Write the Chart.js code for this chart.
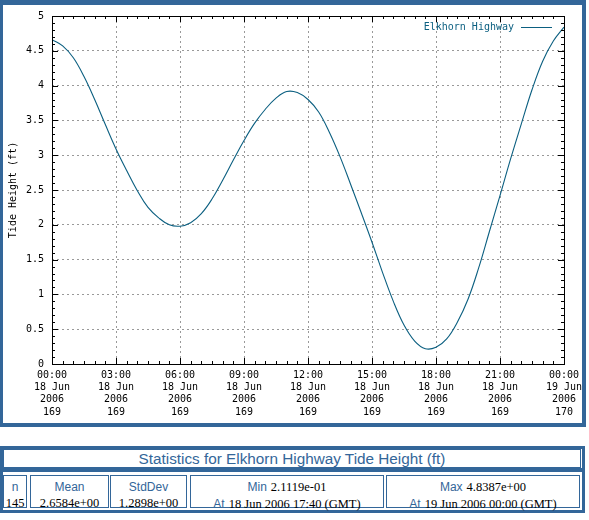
<!DOCTYPE html>
<html>
<head>
<meta charset="utf-8">
<script src="https://cdn.jsdelivr.net/npm/chart.js@4.4.1/dist/chart.umd.min.js"></script>
<style>
body { margin: 0; background: #fff; width: 589px; height: 520px; position: relative; overflow: hidden; }
#frame { position: absolute; left: 0; top: 0; width: 579px; height: 418px; border-style: solid; border-color: #336699; border-width: 5px 4px 4px 3px; }
#frame canvas { display: block; }
.box { position: absolute; box-sizing: border-box; border: 1px solid #336699; }
#stats { left: 0; top: 446px; width: 585px; height: 67px; border-width: 3px; }
#statsTitle { left: 3px; top: 449px; width: 578px; height: 19px; text-align: center; font: 15.3px "Liberation Sans", Arial, sans-serif; line-height: 17px; color: #336699; }
#sep { position: absolute; left: 0; top: 468px; width: 585px; height: 4px; background: #336699; }
.cell { top: 475px; height: 33px; text-align: center; line-height: 15px; padding-top: 2px; white-space: nowrap; }
.lab { font: 12px "Liberation Sans", Arial, sans-serif; color: #336699; }
.val { font: 12.5px "Liberation Serif", "Times New Roman", serif; color: #000; }
</style>
</head>
<body>
<div id="frame"><canvas id="tideChart" width="579" height="418"></canvas></div>

<div id="stats" class="box"></div>
<div id="statsTitle" class="box">Statistics for Elkhorn Highway Tide Height (ft)</div>
<div id="sep"></div>
<div class="box cell" style="left:3px;width:24px"><span class="lab">n</span><br><span class="val">145</span></div>
<div class="box cell" style="left:30px;width:79px"><span class="lab">Mean</span><br><span class="val">2.6584e+00</span></div>
<div class="box cell" style="left:110px;width:77px"><span class="lab">StdDev</span><br><span class="val">1.2898e+00</span></div>
<div class="box cell" style="left:190px;width:194px"><span class="lab">Min</span> <span class="val">2.1119e-01</span><br><span class="lab">At</span> <span class="val">18 Jun 2006 17:40 (GMT)</span></div>
<div class="box cell" style="left:386px;width:194px"><span class="lab">Max</span> <span class="val">4.8387e+00</span><br><span class="lab">At</span> <span class="val">19 Jun 2006 00:00 (GMT)</span></div>

<script>
// Elkhorn Highway tide height, hours since 18 Jun 2006 00:00 GMT
const hours = [0, 0.5, 1, 1.5, 2, 2.5, 3, 3.5, 4, 4.5, 5, 5.5, 6, 6.5, 7, 7.5, 8, 8.5, 9, 9.5, 10, 10.5, 11, 11.5,
    12, 12.5, 13, 13.5, 14, 14.5, 15, 15.5, 16, 16.5, 17, 17.5, 18, 18.5, 19, 19.5, 20, 20.5, 21, 21.5, 22, 22.5, 23, 23.5, 24];
const heights = [4.66, 4.57, 4.40, 4.13, 3.80, 3.44, 3.09, 2.78, 2.49, 2.25, 2.10, 2.00, 1.98, 2.03, 2.16, 2.37, 2.64, 2.93, 3.21, 3.46, 3.66, 3.82, 3.915, 3.90,
    3.80, 3.62, 3.33, 2.98, 2.58, 2.17, 1.75, 1.31, 0.90, 0.56, 0.33, 0.22, 0.24, 0.36, 0.60, 0.93, 1.38, 1.90, 2.42, 2.95, 3.45, 3.94, 4.35, 4.64, 4.84];

// x tick labels, one entry per 3 hours
const timeLabels = ['00:00', '03:00', '06:00', '09:00', '12:00', '15:00', '18:00', '21:00', '00:00'];
const dateLabels = ['18 Jun', '18 Jun', '18 Jun', '18 Jun', '18 Jun', '18 Jun', '18 Jun', '18 Jun', '19 Jun'];
const yearLabels = ['2006', '2006', '2006', '2006', '2006', '2006', '2006', '2006', '2006'];
const dayLabels = ['169', '169', '169', '169', '169', '169', '169', '169', '170'];

const lineColor = '#0b5f80';
const monoFont = { family: '"DejaVu Sans Mono", monospace', size: 10 };

// plot frame, inside tick marks and the in-plot legend
const framePlugin = {
    id: 'framePlugin',
    afterDraw(chart) {
        const ctx = chart.ctx;
        const a = chart.chartArea;
        const xs = chart.scales.x;
        const ys = chart.scales.y;
        ctx.save();
        ctx.strokeStyle = '#000';
        ctx.lineWidth = 1;
        ctx.strokeRect(Math.round(a.left) + 0.5, Math.round(a.top) + 0.5, Math.round(a.right - a.left), Math.round(a.bottom - a.top));
        ctx.beginPath();
        for (let i = 0; i <= 50; i++) {
            const y = Math.round(ys.getPixelForValue(i / 10)) + 0.5;
            const len = i % 5 === 0 ? 6 : 3;
            ctx.moveTo(a.left, y); ctx.lineTo(a.left + len, y);
            ctx.moveTo(a.right, y); ctx.lineTo(a.right - len, y);
        }
        for (let i = 0; i <= 48; i++) {
            const x = Math.round(xs.getPixelForValue(i / 2)) + 0.5;
            const len = i % 6 === 0 ? 6 : 3;
            ctx.moveTo(x, a.bottom); ctx.lineTo(x, a.bottom - len);
            ctx.moveTo(x, a.top); ctx.lineTo(x, a.top + len);
        }
        ctx.stroke();

        // legend: label then line sample
        const ly = Math.round(a.top + 11) + 0.5;
        ctx.font = '10px "DejaVu Sans Mono", monospace';
        ctx.fillStyle = lineColor;
        ctx.textAlign = 'right';
        ctx.textBaseline = 'middle';
        ctx.fillText(chart.data.datasets[0].label, a.right - 50, ly);
        ctx.strokeStyle = lineColor;
        ctx.beginPath();
        ctx.moveTo(a.right - 43, ly);
        ctx.lineTo(a.right - 12, ly);
        ctx.stroke();
        ctx.restore();
    }
};

const tideCtx = document.getElementById('tideChart').getContext('2d');
const tideChart = new Chart(tideCtx, {
    type: 'line',
    data: {
        datasets: [{
            label: 'Elkhorn Highway',
            data: hours.map((h, i) => ({ x: h, y: heights[i] })),
            borderColor: lineColor,
            borderWidth: 1.1,
            pointRadius: 0,
            tension: 0.4,
            fill: false
        }]
    },
    options: {
        responsive: false,
        animation: false,
        devicePixelRatio: 1,
        layout: { padding: { left: 0, top: 11, right: 18, bottom: 0 } },
        plugins: {
            legend: { display: false },
            tooltip: { enabled: false }
        },
        scales: {
            x: {
                type: 'linear',
                min: 0,
                max: 24,
                afterFit: (s) => { s.height = 59; s.paddingLeft = 0; s.paddingRight = 0; },
                afterBuildTicks: (s) => { s.ticks = timeLabels.map((t, i) => ({ value: i * 3 })); },
                border: { display: false, dash: [2, 3] },
                grid: { color: '#999999', lineWidth: 1, drawTicks: false },
                ticks: {
                    autoSkip: false,
                    maxRotation: 0,
                    padding: 5,
                    color: '#000',
                    font: { ...monoFont, lineHeight: 1.23 },
                    callback: (v) => {
                        const i = Math.round(v / 3);
                        return [timeLabels[i], dateLabels[i], yearLabels[i], dayLabels[i]];
                    }
                }
            },
            y: {
                min: 0,
                max: 5,
                afterFit: (s) => { s.width = 49; s.paddingTop = 0; s.paddingBottom = 0; },
                border: { display: false, dash: [2, 3] },
                grid: { color: '#999999', lineWidth: 1, drawTicks: false },
                ticks: {
                    stepSize: 0.5,
                    padding: 8,
                    color: '#000',
                    font: monoFont,
                    callback: (v) => String(v)
                },
                title: {
                    display: true,
                    text: 'Tide Height (ft)',
                    color: '#000',
                    font: monoFont,
                    padding: { top: 4, bottom: 0 }
                }
            }
        }
    },
    plugins: [framePlugin]
});
</script>
</body>
</html>
